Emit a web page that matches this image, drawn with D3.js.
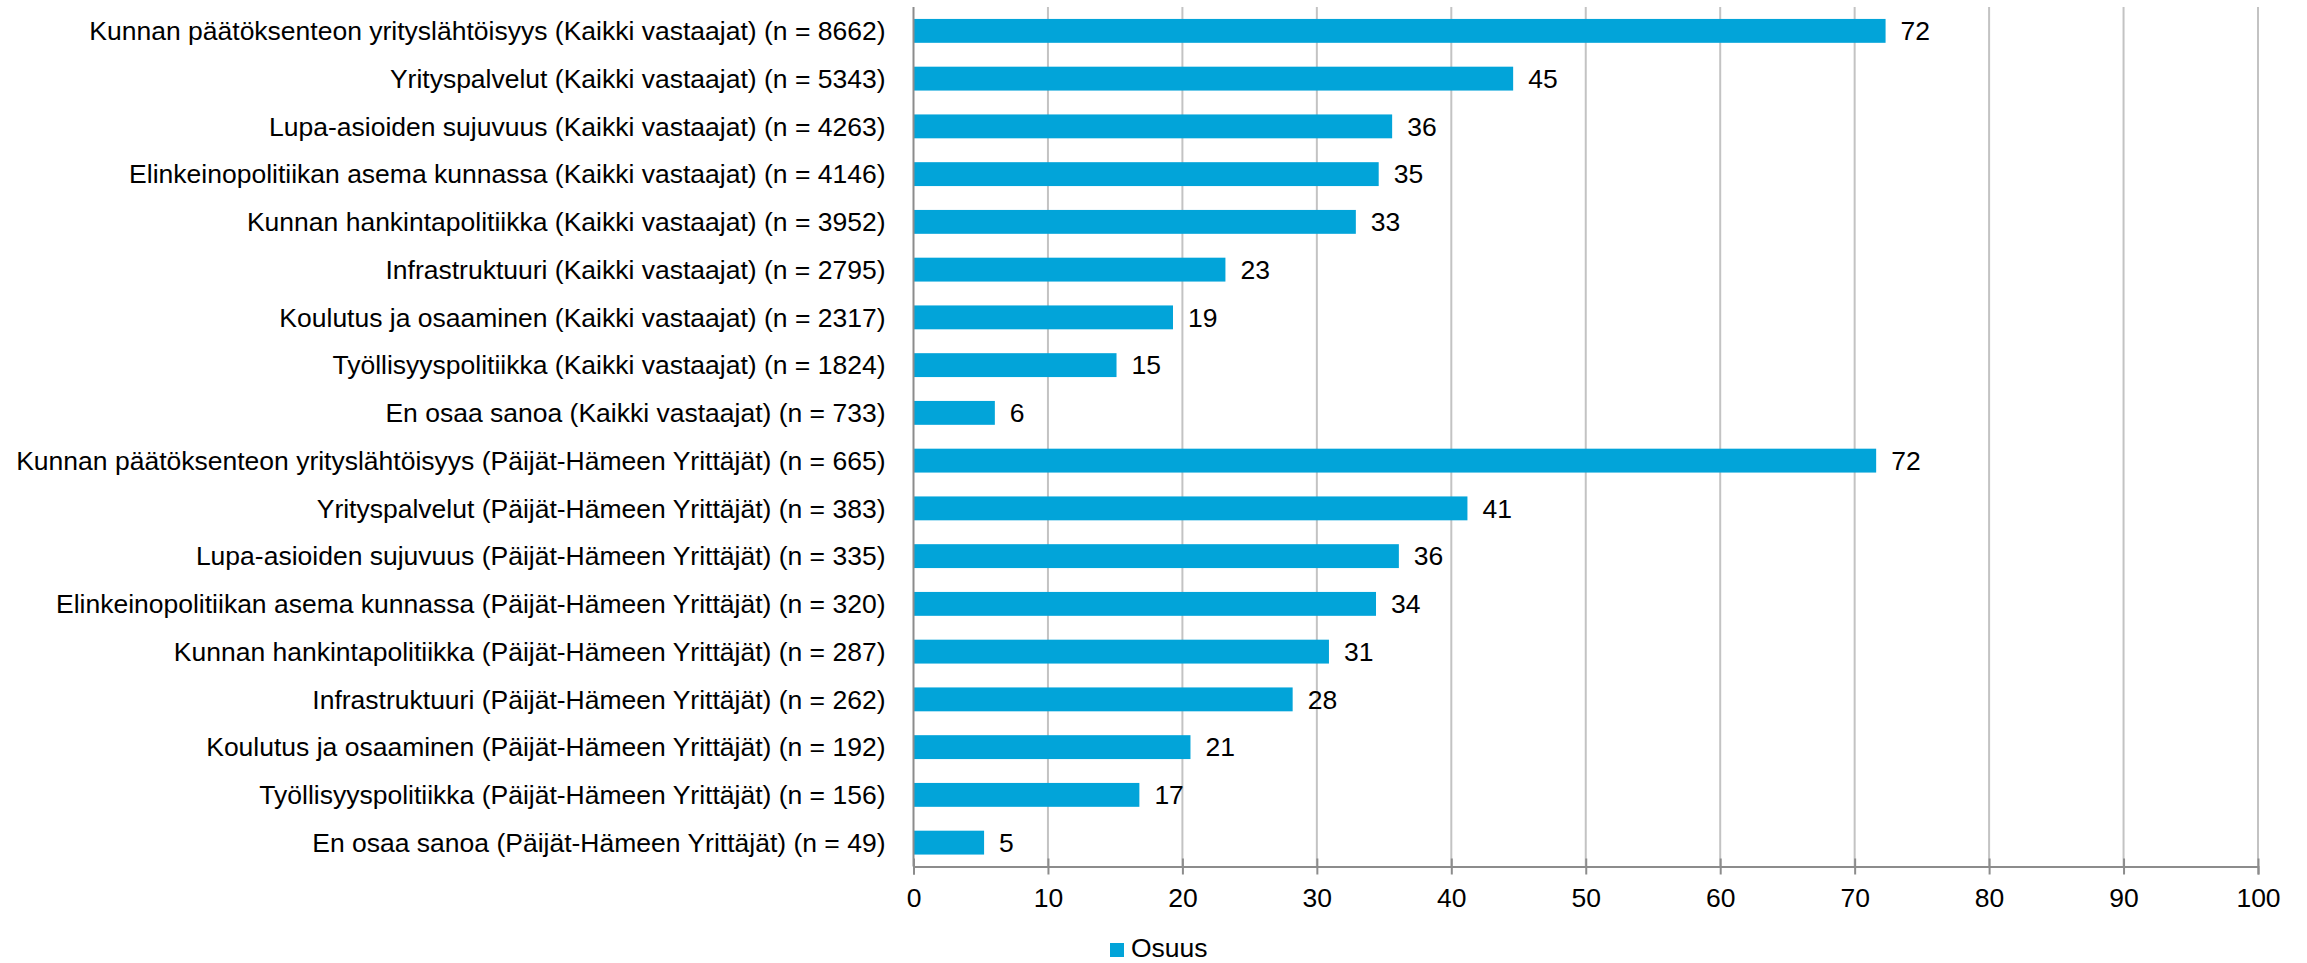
<!DOCTYPE html>
<html>
<head>
<meta charset="utf-8">
<script src="https://cdn.jsdelivr.net/npm/d3@7"></script>
<style>
  html, body { margin: 0; padding: 0; background: #fff; }
  svg { display: block; }
  text { font-family: "Liberation Sans", Arial, sans-serif; fill: #000; }
</style>
</head>
<body>
<svg id="chart" width="2307" height="963"></svg>
<script>
const categories = [
  "Kunnan päätöksenteon yrityslähtöisyys (Kaikki vastaajat) (n = 8662)",
  "Yrityspalvelut (Kaikki vastaajat) (n = 5343)",
  "Lupa-asioiden sujuvuus (Kaikki vastaajat) (n = 4263)",
  "Elinkeinopolitiikan asema kunnassa (Kaikki vastaajat) (n = 4146)",
  "Kunnan hankintapolitiikka (Kaikki vastaajat) (n = 3952)",
  "Infrastruktuuri (Kaikki vastaajat) (n = 2795)",
  "Koulutus ja osaaminen (Kaikki vastaajat) (n = 2317)",
  "Työllisyyspolitiikka (Kaikki vastaajat) (n = 1824)",
  "En osaa sanoa (Kaikki vastaajat) (n = 733)",
  "Kunnan päätöksenteon yrityslähtöisyys (Päijät-Hämeen Yrittäjät) (n = 665)",
  "Yrityspalvelut (Päijät-Hämeen Yrittäjät) (n = 383)",
  "Lupa-asioiden sujuvuus (Päijät-Hämeen Yrittäjät) (n = 335)",
  "Elinkeinopolitiikan asema kunnassa (Päijät-Hämeen Yrittäjät) (n = 320)",
  "Kunnan hankintapolitiikka (Päijät-Hämeen Yrittäjät) (n = 287)",
  "Infrastruktuuri (Päijät-Hämeen Yrittäjät) (n = 262)",
  "Koulutus ja osaaminen (Päijät-Hämeen Yrittäjät) (n = 192)",
  "Työllisyyspolitiikka (Päijät-Hämeen Yrittäjät) (n = 156)",
  "En osaa sanoa (Päijät-Hämeen Yrittäjät) (n = 49)"
];
const values = [72.3, 44.6, 35.6, 34.6, 32.9, 23.2, 19.3, 15.1, 6.05,
                 71.6, 41.2, 36.1, 34.4, 30.9, 28.2, 20.6, 16.8, 5.25];
const valueLabels = ["72","45","36","35","33","23","19","15","6",
                     "72","41","36","34","31","28","21","17","5"];
const xTicks = [0, 10, 20, 30, 40, 50, 60, 70, 80, 90, 100];
const seriesName = "Osuus";

(function () {
const FONT = 26.5;
const barColor = "#02A4D9";
const svg = d3.select("#chart");

const mLeft = 913.5, mRight = 2258, mTop = 7, mBottom = 866.5;

const x = d3.scaleLinear().domain([0, 100]).range([mLeft, mRight]);
const y = d3.scaleBand().domain(categories).range([mTop, mBottom])
  .paddingInner(0.5).paddingOuter(0.25);

// gridlines
svg.append("g").selectAll("line").data(xTicks.slice(1)).join("line")
  .attr("x1", d => x(d)).attr("x2", d => x(d))
  .attr("y1", mTop).attr("y2", mBottom)
  .attr("stroke", "#c3c3c3").attr("stroke-width", 2);

// bars
svg.append("g").selectAll("rect").data(values).join("rect")
  .attr("x", x(0))
  .attr("y", (d, i) => y(categories[i]))
  .attr("width", d => x(d) - x(0))
  .attr("height", y.bandwidth())
  .attr("fill", barColor);

// left axis line
svg.append("line")
  .attr("x1", mLeft).attr("x2", mLeft).attr("y1", mTop).attr("y2", mBottom)
  .attr("stroke", "#8c8c8c").attr("stroke-width", 2);

// bottom axis
const xAxis = d3.axisBottom(x).tickValues(xTicks).tickSize(8).tickPadding(14)
  .tickFormat(d3.format("d"));
const gx = svg.append("g").attr("transform", `translate(0,${mBottom})`).call(xAxis);
gx.select(".domain").attr("stroke", "#8c8c8c").attr("stroke-width", 2);
gx.selectAll(".tick line").attr("stroke", "#8c8c8c").attr("stroke-width", 2)
  .attr("y1", -8).attr("y2", 8);
gx.selectAll(".tick text")
  .style("font-family", '"Liberation Sans", Arial, sans-serif')
  .style("font-size", FONT + "px").attr("fill", "#000");

// category labels
svg.append("g").selectAll("text").data(categories).join("text")
  .attr("x", mLeft - 28)
  .attr("y", d => y(d) + y.bandwidth() / 2)
  .attr("dy", "0.35em")
  .attr("text-anchor", "end")
  .style("font-size", FONT + "px")
  .text(d => d);

// value labels
svg.append("g").selectAll("text").data(values).join("text")
  .attr("x", d => x(d) + 15)
  .attr("y", (d, i) => y(categories[i]) + y.bandwidth() / 2)
  .attr("dy", "0.35em")
  .style("font-size", FONT + "px")
  .text((d, i) => valueLabels[i]);

// legend
const lg = svg.append("g").attr("transform", "translate(1110,943)");
lg.append("rect").attr("width", 14).attr("height", 14).attr("fill", barColor);
lg.append("text").attr("x", 21).attr("y", 14)
  .style("font-size", FONT + "px").text(seriesName);
})();
</script>
</body>
</html>
